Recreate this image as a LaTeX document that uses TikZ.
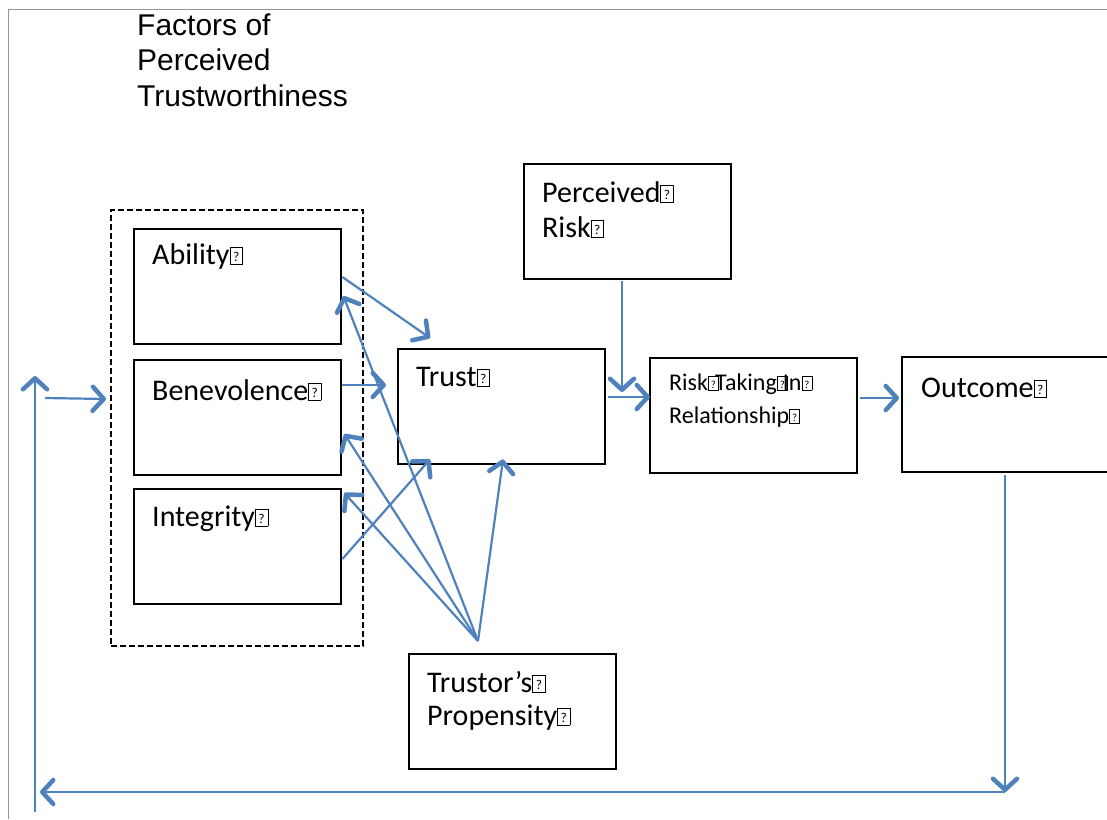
\documentclass[tikz,border=0pt]{standalone}
\usepackage{fontspec}
\usepackage{graphicx}
\setmainfont{Carlito}
\newfontfamily\arialfont{Liberation Sans}
\usetikzlibrary{arrows.meta,calc}
\definecolor{linkblue}{RGB}{79,129,189}
\definecolor{framegray}{RGB}{150,150,150}

% missing-glyph box that the word processor printed after each word
\newcommand\tofu{{\setlength\fboxsep{0pt}\setlength\fboxrule{0.6pt}%
  \fbox{\makebox[0.4em]{\rule{0pt}{0.56em}\raisebox{0.08em}{\scalebox{0.45}{?}}}}}}

\begin{document}
\begin{tikzpicture}[x=1pt,y=-1pt,
  box/.style={draw,line width=2.4pt,minimum width=207pt,minimum height=115pt,
    inner sep=0pt,anchor=north west},
  lbl/.style={anchor=base west,inner sep=0pt,align=left,
    font=\fontsize{30}{35}\selectfont},
  link/.style={draw=linkblue,line width=2.2pt,
    -{Straight Barb[length=11pt,width=24pt,line width=4.5pt,round]}}]

\useasboundingbox (0,0) rectangle (1107,819);

% page frame
\draw[framegray,line width=1pt] (8,819) -- (8,9) -- (1107,9);

% title (multi-line labels are placed by the baseline of their last line)
\node[lbl,font=\arialfont\fontsize{30}{35.5}\selectfont] (title) at (137,106)
  {Factors of\\Perceived\\Trustworthiness};

% factors group
\node[draw,dashed,dash pattern=on 6pt off 3pt,line width=2pt,inner sep=0pt,
  minimum width=252pt,minimum height=436pt,anchor=north west] (grp) at (110,209) {};
\node[box] (abil) at (133,228) {};
\node[box] (bene) at (133,359) {};
\node[box] (integ) at (133,488) {};
\node[lbl] (abilt) at (152,264) {Ability\tofu};
\node[lbl] (benet) at (152,400) {Benevolence\tofu};
\node[lbl] (integt) at (152,526) {Integrity\tofu};

% main chain
\node[box] (trust) at (397,348) {};
\node[lbl] (trustt) at (416,386) {Trust\tofu};
\node[box] (prisk) at (523,163) {};
\node[lbl] (priskt) at (542,237) {Perceived\tofu\\Risk\tofu};
\node[box] (rtake) at (649,357) {};
\node[lbl,font=\fontsize{24}{33}\selectfont] (rtaket) at (669,423)
  {Risk\tofu\kern-0.15em Taking\tofu\kern-0.2em In\tofu\\Relationship\tofu};
\node[box] (outc) at (901,356) {};
\node[lbl] (outct) at (921,397) {Outcome\tofu};
\node[box] (prop) at (408,653) {};
\node[lbl,font=\fontsize{30}{33}\selectfont] (propt) at (427,725)
  {Trustor's\tofu\\Propensity\tofu};

% loose ends of the feedback loop
\coordinate (propsrc) at ($(prop.north west)+(70,-12)$);
\coordinate (loopr) at (1005,792);
\coordinate (loopl) at (40,792);
\coordinate (upbot) at (35,812);
\coordinate (uptop) at (35,376);
\coordinate (inl) at (45,398);

% factors to trust
\draw[link] ($(abil.north east)+(0,49)$) -- ($(trust.north west)+(33,-10)$);
\draw[link] ($(bene.north east)+(0,26)$) -- ($(trust.north west)+(-11,37)$);
\draw[link] ($(integ.north east)+(0,71)$) -- ($(trust.south west)+(33,-6)$);

% propensity influences
\draw[link] (propsrc) -- ($(abil.north east)+(1,68)$);
\draw[link] (propsrc) -- ($(bene.north east)+(2,75)$);
\draw[link] (propsrc) -- ($(integ.north east)+(2,5)$);
\draw[link] (propsrc) -- ($(trust.south west)+(106,-6)$);

% trust to outcome
\draw[link] ($(trust.north east)+(2,49)$) -- ($(rtake.north west)+(1,40)$);
\draw[link] ($(prisk.south west)+(99,1)$) -- ($(rtake.north west)+(-27,35)$);
\draw[link] ($(rtake.north east)+(2,41)$) -- ($(outc.north west)+(-2,42)$);

% feedback loop
\draw[link] ($(outc.south west)+(104,2)$) -- (loopr);
\draw[link] (loopr) -- (loopl);
\draw[link] (upbot) -- (uptop);
\draw[link] (inl) -- ($(grp.west)+(-4,-29)$);
\end{tikzpicture}
\end{document}
